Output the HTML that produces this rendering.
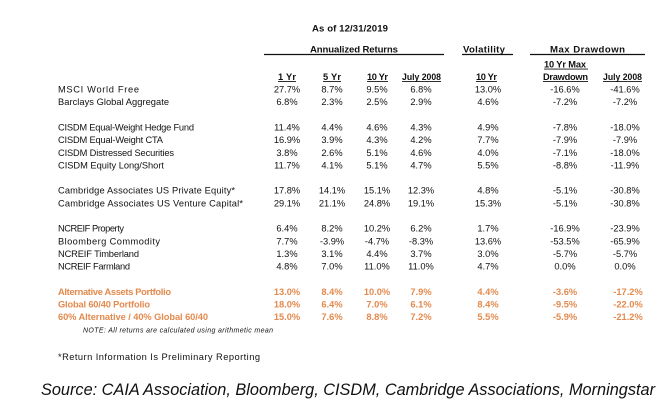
<!DOCTYPE html>
<html><head><meta charset="utf-8"><style>
html,body{margin:0;padding:0;background:#fff;}
svg{display:block;}
text{font-family:"Liberation Sans",Arial,sans-serif;fill:#111;}
.h{font-weight:bold;font-size:9.6px;}
.s{font-weight:bold;font-size:9.3px;}
.l{font-size:9.3px;}
.v{font-size:9.3px;text-anchor:middle;}
.o{fill:#E38A4E;font-weight:bold;}
</style></head><body>
<svg width="671" height="408" viewBox="0 0 671 408" xmlns="http://www.w3.org/2000/svg">
<rect width="671" height="408" fill="#fff"/>
<!-- headers -->
<text class="h" x="312" y="31.5" textLength="76" lengthAdjust="spacing">As of 12/31/2019</text>
<text class="h" x="310" y="52.5" textLength="88" lengthAdjust="spacing">Annualized Returns</text>
<text class="h" x="463" y="52.5" textLength="42" lengthAdjust="spacing">Volatility</text>
<text class="h" x="550" y="52.5" textLength="75" lengthAdjust="spacing">Max Drawdown</text>
<g stroke="#111" stroke-width="1.2">
<line x1="264" y1="54.5" x2="444" y2="54.5"/>
<line x1="462" y1="54.5" x2="513" y2="54.5"/>
<line x1="530" y1="54.5" x2="645" y2="54.5"/>
</g>
<!-- sub headers -->
<text class="s" x="278" y="80" textLength="18" lengthAdjust="spacing">1 Yr</text>
<text class="s" x="323" y="80" textLength="18" lengthAdjust="spacing">5 Yr</text>
<text class="s" x="367" y="80" textLength="21" lengthAdjust="spacing">10 Yr</text>
<text class="s" x="402" y="80" textLength="39" lengthAdjust="spacingAndGlyphs">July 2008</text>
<text class="s" x="476" y="80" textLength="21" lengthAdjust="spacing">10 Yr</text>
<text class="s" x="544" y="67.5" textLength="42" lengthAdjust="spacing">10 Yr Max</text>
<text class="s" x="543" y="80" textLength="45" lengthAdjust="spacing">Drawdown</text>
<text class="s" x="603" y="80" textLength="39" lengthAdjust="spacingAndGlyphs">July 2008</text>
<g stroke="#111" stroke-width="0.9">
<line x1="278" y1="81.6" x2="296" y2="81.6"/>
<line x1="323" y1="81.6" x2="341" y2="81.6"/>
<line x1="367" y1="81.6" x2="388" y2="81.6"/>
<line x1="402" y1="81.6" x2="441" y2="81.6"/>
<line x1="476" y1="81.6" x2="497" y2="81.6"/>
<line x1="544" y1="69.1" x2="588" y2="69.1"/>
<line x1="543" y1="81.6" x2="588" y2="81.6"/>
<line x1="603" y1="81.6" x2="642" y2="81.6"/>
</g>
<!-- labels -->
<text class="l" x="58" y="92.5" textLength="81" lengthAdjust="spacing">MSCI World Free</text>
<text class="l" x="58" y="105.2" textLength="111" lengthAdjust="spacing">Barclays Global Aggregate</text>
<text class="l" x="58" y="130.5" textLength="136" lengthAdjust="spacing">CISDM Equal-Weight Hedge Fund</text>
<text class="l" x="58" y="143.1" textLength="105" lengthAdjust="spacing">CISDM Equal-Weight CTA</text>
<text class="l" x="58" y="155.8" textLength="116" lengthAdjust="spacing">CISDM Distressed Securities</text>
<text class="l" x="58" y="168.4" textLength="106" lengthAdjust="spacing">CISDM Equity Long/Short</text>
<text class="l" x="58" y="193.7" textLength="177" lengthAdjust="spacing">Cambridge Associates US Private Equity*</text>
<text class="l" x="58" y="206.4" textLength="185" lengthAdjust="spacing">Cambridge Associates US Venture Capital*</text>
<text class="l" x="58" y="231.7" textLength="66" lengthAdjust="spacing">NCREIF Property</text>
<text class="l" x="58" y="244.3" textLength="102" lengthAdjust="spacing">Bloomberg Commodity</text>
<text class="l" x="58" y="257" textLength="81" lengthAdjust="spacing">NCREIF Timberland</text>
<text class="l" x="58" y="269.6" textLength="72" lengthAdjust="spacing">NCREIF Farmland</text>
<text class="l o" x="58" y="294.9" textLength="113" lengthAdjust="spacing">Alternative Assets Portfolio</text>
<text class="l o" x="58" y="307.5" textLength="92" lengthAdjust="spacing">Global 60/40 Portfolio</text>
<text class="l o" x="58" y="320.2" textLength="150" lengthAdjust="spacing">60% Alternative / 40% Global 60/40</text>
<text x="83" y="332.5" font-size="7" font-style="italic" textLength="190" lengthAdjust="spacing">NOTE: All returns are calculated using arithmetic mean</text>
<text class="l" x="58" y="360.2" textLength="202" lengthAdjust="spacing">*Return Information Is Preliminary Reporting</text>
<!-- values -->
<g>
<text class="v" x="287" y="92.5">27.7%</text><text class="v" x="332" y="92.5">8.7%</text><text class="v" x="377" y="92.5">9.5%</text><text class="v" x="421" y="92.5">6.8%</text><text class="v" x="488" y="92.5">13.0%</text><text class="v" x="565" y="92.5">-16.6%</text><text class="v" x="625" y="92.5">-41.6%</text>
<text class="v" x="287" y="105.2">6.8%</text><text class="v" x="332" y="105.2">2.3%</text><text class="v" x="377" y="105.2">2.5%</text><text class="v" x="421" y="105.2">2.9%</text><text class="v" x="488" y="105.2">4.6%</text><text class="v" x="565" y="105.2">-7.2%</text><text class="v" x="625" y="105.2">-7.2%</text>
<text class="v" x="287" y="130.5">11.4%</text><text class="v" x="332" y="130.5">4.4%</text><text class="v" x="377" y="130.5">4.6%</text><text class="v" x="421" y="130.5">4.3%</text><text class="v" x="488" y="130.5">4.9%</text><text class="v" x="565" y="130.5">-7.8%</text><text class="v" x="625" y="130.5">-18.0%</text>
<text class="v" x="287" y="143.1">16.9%</text><text class="v" x="332" y="143.1">3.9%</text><text class="v" x="377" y="143.1">4.3%</text><text class="v" x="421" y="143.1">4.2%</text><text class="v" x="488" y="143.1">7.7%</text><text class="v" x="565" y="143.1">-7.9%</text><text class="v" x="625" y="143.1">-7.9%</text>
<text class="v" x="287" y="155.8">3.8%</text><text class="v" x="332" y="155.8">2.6%</text><text class="v" x="377" y="155.8">5.1%</text><text class="v" x="421" y="155.8">4.6%</text><text class="v" x="488" y="155.8">4.0%</text><text class="v" x="565" y="155.8">-7.1%</text><text class="v" x="625" y="155.8">-18.0%</text>
<text class="v" x="287" y="168.4">11.7%</text><text class="v" x="332" y="168.4">4.1%</text><text class="v" x="377" y="168.4">5.1%</text><text class="v" x="421" y="168.4">4.7%</text><text class="v" x="488" y="168.4">5.5%</text><text class="v" x="565" y="168.4">-8.8%</text><text class="v" x="625" y="168.4">-11.9%</text>
<text class="v" x="287" y="193.7">17.8%</text><text class="v" x="332" y="193.7">14.1%</text><text class="v" x="377" y="193.7">15.1%</text><text class="v" x="421" y="193.7">12.3%</text><text class="v" x="488" y="193.7">4.8%</text><text class="v" x="565" y="193.7">-5.1%</text><text class="v" x="625" y="193.7">-30.8%</text>
<text class="v" x="287" y="206.4">29.1%</text><text class="v" x="332" y="206.4">21.1%</text><text class="v" x="377" y="206.4">24.8%</text><text class="v" x="421" y="206.4">19.1%</text><text class="v" x="488" y="206.4">15.3%</text><text class="v" x="565" y="206.4">-5.1%</text><text class="v" x="625" y="206.4">-30.8%</text>
<text class="v" x="287" y="231.7">6.4%</text><text class="v" x="332" y="231.7">8.2%</text><text class="v" x="377" y="231.7">10.2%</text><text class="v" x="421" y="231.7">6.2%</text><text class="v" x="488" y="231.7">1.7%</text><text class="v" x="565" y="231.7">-16.9%</text><text class="v" x="625" y="231.7">-23.9%</text>
<text class="v" x="287" y="244.3">7.7%</text><text class="v" x="332" y="244.3">-3.9%</text><text class="v" x="377" y="244.3">-4.7%</text><text class="v" x="421" y="244.3">-8.3%</text><text class="v" x="488" y="244.3">13.6%</text><text class="v" x="565" y="244.3">-53.5%</text><text class="v" x="625" y="244.3">-65.9%</text>
<text class="v" x="287" y="257">1.3%</text><text class="v" x="332" y="257">3.1%</text><text class="v" x="377" y="257">4.4%</text><text class="v" x="421" y="257">3.7%</text><text class="v" x="488" y="257">3.0%</text><text class="v" x="565" y="257">-5.7%</text><text class="v" x="625" y="257">-5.7%</text>
<text class="v" x="287" y="269.6">4.8%</text><text class="v" x="332" y="269.6">7.0%</text><text class="v" x="377" y="269.6">11.0%</text><text class="v" x="421" y="269.6">11.0%</text><text class="v" x="488" y="269.6">4.7%</text><text class="v" x="565" y="269.6">0.0%</text><text class="v" x="625" y="269.6">0.0%</text>
<text class="v o" x="287" y="294.9">13.0%</text><text class="v o" x="332" y="294.9">8.4%</text><text class="v o" x="377" y="294.9">10.0%</text><text class="v o" x="421" y="294.9">7.9%</text><text class="v o" x="488" y="294.9">4.4%</text><text class="v o" x="565" y="294.9">-3.6%</text><text class="v o" x="628" y="294.9">-17.2%</text>
<text class="v o" x="287" y="307.5">18.0%</text><text class="v o" x="332" y="307.5">6.4%</text><text class="v o" x="377" y="307.5">7.0%</text><text class="v o" x="421" y="307.5">6.1%</text><text class="v o" x="488" y="307.5">8.4%</text><text class="v o" x="565" y="307.5">-9.5%</text><text class="v o" x="628" y="307.5">-22.0%</text>
<text class="v o" x="287" y="320.2">15.0%</text><text class="v o" x="332" y="320.2">7.6%</text><text class="v o" x="377" y="320.2">8.8%</text><text class="v o" x="421" y="320.2">7.2%</text><text class="v o" x="488" y="320.2">5.5%</text><text class="v o" x="565" y="320.2">-5.9%</text><text class="v o" x="628" y="320.2">-21.2%</text>
</g>
<text x="41" y="395" font-size="16.5" font-style="italic" textLength="614" lengthAdjust="spacingAndGlyphs">Source: CAIA Association, Bloomberg, CISDM, Cambridge Associations, Morningstar</text>
</svg>
</body></html>
